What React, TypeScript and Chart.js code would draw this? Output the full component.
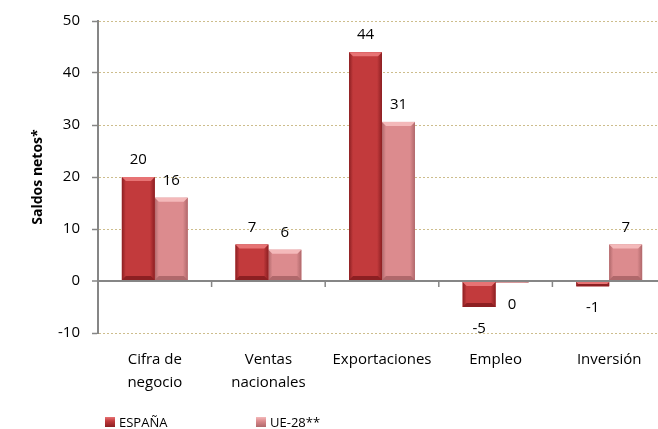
import React, { useEffect, useRef } from "react";
import { Chart, registerables } from "chart.js";

Chart.register(...registerables);

const categories: (string | string[])[] = [
  ["Cifra de", "negocio"],
  ["Ventas", "nacionales"],
  "Exportaciones",
  "Empleo",
  "Inversión",
];
const seriesNames = ["ESPAÑA", "UE-28**"];
const espana = [20, 7, 44, -5, -1];
const ue28 = [16, 6, 30.6, -0.3, 7];
const yMin = -10;
const yMax = 50;
const yStep = 10;
const yTitle = "Saldos netos*";

const FONT = "'Open Sans', 'DejaVu Sans', sans-serif";
const ESP = { main: "#c23a3c", dark: "#8c1f22", light: "#e77374" };
const UE = { main: "#dc8b8e", dark: "#b0686b", light: "#f4b9ba" };
const palettes = [ESP, UE];

const bevelPlugin = {
  id: "bevel",
  afterDatasetDraw(chart: any, args: any) {
    const { ctx } = chart;
    const pal = palettes[args.index];
    const meta = args.meta;
    ctx.save();
    meta.data.forEach((el: any) => {
      const { x, y, base, width } = el.getProps(["x", "y", "base", "width"], true);
      const l = x - width / 2;
      const r = x + width / 2;
      const t = Math.min(y, base);
      const b = Math.max(y, base);
      const h = b - t;
      if (h < 0.5) return;
      const g = ctx.createLinearGradient(l, 0, r, 0);
      g.addColorStop(0, pal.dark);
      g.addColorStop(0.12, pal.main);
      g.addColorStop(0.85, pal.main);
      g.addColorStop(1, pal.dark);
      ctx.fillStyle = g;
      ctx.fillRect(l, t, width, h);
      const bv = Math.min(4, h / 2);
      ctx.fillStyle = pal.light;
      ctx.beginPath();
      ctx.moveTo(l, t);
      ctx.lineTo(r, t);
      ctx.lineTo(r - bv, t + bv);
      ctx.lineTo(l + bv, t + bv);
      ctx.closePath();
      ctx.fill();
      ctx.fillStyle = pal.dark;
      ctx.beginPath();
      ctx.moveTo(l, b);
      ctx.lineTo(r, b);
      ctx.lineTo(r - bv, b - bv);
      ctx.lineTo(l + bv, b - bv);
      ctx.closePath();
      ctx.fill();
    });
    ctx.restore();
  },
};

const labelPlugin = {
  id: "valueLabels",
  afterDatasetsDraw(chart: any) {
    const { ctx } = chart;
    ctx.save();
    ctx.font = `15px ${FONT}`;
    ctx.fillStyle = "#000";
    ctx.textAlign = "center";
    ctx.textBaseline = "middle";
    chart.data.datasets.forEach((ds: any, di: number) => {
      const meta = chart.getDatasetMeta(di);
      meta.data.forEach((el: any, i: number) => {
        const v = ds.data[i];
        const txt = String(Math.round(v) === 0 ? 0 : Math.round(v));
        const yPix = v >= 0 ? el.y - 17 : el.y + 22;
        ctx.fillText(txt, el.x, yPix);
      });
    });
    ctx.restore();
  },
};

const xTickPlugin = {
  id: "xTicksAtZero",
  afterDraw(chart: any) {
    const { ctx } = chart;
    const xs = chart.scales.x;
    const ys = chart.scales.y;
    const y0 = ys.getPixelForValue(0);
    ctx.save();
    ctx.strokeStyle = "#868686";
    ctx.lineWidth = 1.5;
    for (let i = 0; i < categories.length - 1; i++) {
      const xb = (xs.getPixelForValue(i) + xs.getPixelForValue(i + 1)) / 2;
      ctx.beginPath();
      ctx.moveTo(xb, y0);
      ctx.lineTo(xb, y0 + 6);
      ctx.stroke();
    }
    ctx.restore();
  },
};

export default function App() {
  const ref = useRef<HTMLCanvasElement | null>(null);

  useEffect(() => {
    if (!ref.current) return;
    Chart.defaults.font.family = FONT;
    const chart = new Chart(ref.current, {
      type: "bar",
      data: {
        labels: categories,
        datasets: [
          {
            label: seriesNames[0],
            data: espana,
            backgroundColor: ESP.main,
            barPercentage: 1,
            categoryPercentage: 0.58,
          },
          {
            label: seriesNames[1],
            data: ue28,
            backgroundColor: UE.main,
            barPercentage: 1,
            categoryPercentage: 0.58,
          },
        ],
      },
      options: {
        responsive: false,
        animation: false,
        devicePixelRatio: 1,
        layout: { padding: { top: 20, left: 0, right: 0, bottom: 0 } },
        plugins: {
          legend: { display: false },
          tooltip: { enabled: false },
        },
        scales: {
          x: {
            grid: { display: false, drawTicks: false },
            border: { display: false },
            ticks: {
              color: "#000",
              font: { size: 15, lineHeight: 1.53 },
              padding: 15,
              maxRotation: 0,
              autoSkip: false,
            },
            afterFit(scale: any) {
              scale.height = 96;
            },
          },
          y: {
            min: yMin,
            max: yMax,
            ticks: {
              stepSize: yStep,
              color: "#000",
              font: { size: 15 },
              padding: 12,
            },
            grid: {
              color: (c: any) => (c.tick && c.tick.value === 0 ? "#868686" : "#cdbd8c"),
              lineWidth: (c: any) => (c.tick && c.tick.value === 0 ? 2 : 1),
              tickColor: "#868686",
              tickLength: 6,
              tickWidth: 1.5,
            },
            border: {
              display: true,
              color: "#868686",
              width: 2,
              dash: (c: any) => (c.tick && c.tick.value === 0 ? [] : [2, 2]),
            },
            title: {
              display: true,
              text: yTitle,
              color: "#000",
              font: { size: 14, weight: "bold" },
              padding: { top: 30, bottom: 0 },
            },
            afterFit(scale: any) {
              scale.width = 98;
            },
          },
        },
      },
      plugins: [bevelPlugin, labelPlugin, xTickPlugin],
    } as any);
    return () => chart.destroy();
  }, []);

  const legendItem = (name: string, pal: typeof ESP, left: number) => (
    <div
      key={name}
      style={{
        position: "absolute",
        left,
        top: 413,
        display: "flex",
        alignItems: "center",
        fontFamily: FONT,
        fontSize: 13,
        color: "#000",
        lineHeight: "18px",
      }}
    >
      <span
        style={{
          display: "inline-block",
          width: 10,
          height: 10,
          marginRight: 4,
          background: `linear-gradient(to bottom, ${pal.light}, ${pal.main} 40%, ${pal.dark})`,
        }}
      />
      {name}
    </div>
  );

  return (
    <div
      style={{
        position: "fixed",
        left: 0,
        top: 0,
        width: 658,
        height: 429,
        overflow: "hidden",
        background: "#fff",
      }}
    >
      <canvas ref={ref} width={666} height={429} style={{ display: "block" }} />
      {legendItem(seriesNames[0], ESP, 105)}
      {legendItem(seriesNames[1], UE, 256)}
    </div>
  );
}
